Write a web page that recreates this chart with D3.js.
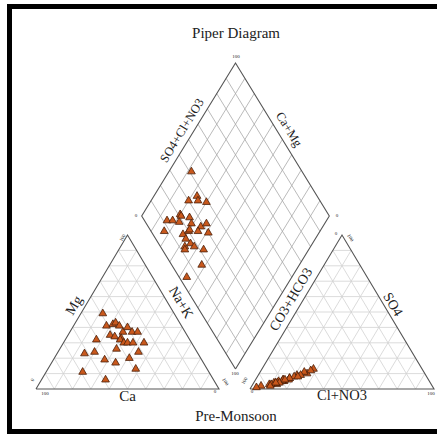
<!DOCTYPE html>
<html>
<head>
  <meta charset="utf-8">
  <title>Piper Diagram</title>
  <style>
    body { margin: 0; background: #fff; }
    text { font-family: "Liberation Serif", "Times New Roman", serif; fill: #222; }
  </style>
</head>
<body>
  <div id="chart"></div>
  <script src="https://cdn.jsdelivr.net/npm/d3@7"></script>
  <script>
  // sample chemistry in percent (meq), one entry per sample
  var ca   = [39, 62, 51, 41, 56, 69, 37, 35, 42, 34, 40, 53, 34, 37, 38, 30, 43, 37, 29, 48, 59, 35, 26, 32, 39, 32, 26, 39];
  var mg   = [49, 23, 32, 41, 24, 11, 42, 43, 35, 41, 34, 19, 37, 33, 32, 40, 26, 30, 37, 17,  6, 30, 37, 30, 20, 24, 30, 13];
  var naK  = [12, 15, 17, 18, 20, 20, 21, 22, 23, 25, 26, 28, 29, 30, 30, 30, 31, 33, 34, 35, 35, 35, 37, 38, 41, 44, 44, 48];
  var hco3 = [59, 88, 93, 85, 79, 70, 79, 82, 64, 65, 75, 84, 76, 80, 79, 61, 84, 87, 88, 83, 72, 75, 68, 82, 70, 96, 78, 84];
  var so4  = [13,  3,  2,  4,  5,  9,  6,  5, 10, 11,  7,  4,  6,  5,  6, 12,  3,  3,  2,  4,  8,  7,  9,  4,  8,  1,  6,  4];
  var cl   = [28,  9,  5, 11, 16, 21, 15, 13, 26, 24, 18, 12, 18, 15, 15, 27, 13, 10, 10, 13, 20, 18, 23, 14, 22,  3, 16, 12];

  var gridTicks = [10, 20, 30, 40, 50, 60, 70, 80, 90];

  var width = 437, height = 435;
  var H = Math.sqrt(3) / 2;

  var svg = d3.select("#chart").append("svg")
      .attr("width", width)
      .attr("height", height);

  // frame
  svg.append("rect")
      .attr("x", 9.5).attr("y", 6.5)
      .attr("width", 440).attr("height", 425)
      .attr("fill", "none")
      .attr("stroke", "#000")
      .attr("stroke-width", 5);

  // scales for the three parts (unit ternary coordinates -> pixels)
  var xL = d3.scaleLinear().domain([0, 1]).range([36, 219]);
  var yL = d3.scaleLinear().domain([0, H]).range([389, 235]);
  var xR = d3.scaleLinear().domain([0, 1]).range([250, 434]);
  var yR = d3.scaleLinear().domain([0, H]).range([389, 235]);
  var xD = d3.scaleLinear().domain([0, 1]).range([141.7, 329.3]);
  var yD = d3.scaleLinear().domain([0, 2 * H]).range([369, 63]);

  var line = function(xs, ys) {
    return d3.line().x(function(p){ return xs(p[0]); }).y(function(p){ return ys(p[1]); });
  };

  function triGrid(g, xs, ys) {
    var path = line(xs, ys);
    gridTicks.forEach(function(v) {
      var t = v / 100;
      [[[t / 2, t * H], [1 - t / 2, t * H]],
       [[t, 0], [t + (1 - t) / 2, (1 - t) * H]],
       [[1 - t, 0], [(1 - t) / 2, (1 - t) * H]]].forEach(function(seg) {
        g.append("path").attr("d", path(seg))
          .attr("stroke", "#d2d2d2").attr("stroke-width", 0.8).attr("fill", "none");
      });
    });
    g.append("path")
      .attr("d", path([[0, 0], [1, 0], [0.5, H], [0, 0]]))
      .attr("stroke", "#555").attr("stroke-width", 1.1).attr("fill", "none");
  }

  var gL = svg.append("g");
  var gR = svg.append("g");
  var gD = svg.append("g");
  triGrid(gL, xL, yL);
  triGrid(gR, xR, yR);

  // diamond grid
  var pathD = line(xD, yD);
  gridTicks.forEach(function(v) {
    var t = v / 100;
    [[[0.5 - t / 2, t * H], [1 - t / 2, (1 + t) * H]],
     [[0.5 + t / 2, t * H], [t / 2, (1 + t) * H]]].forEach(function(seg) {
      gD.append("path").attr("d", pathD(seg))
        .attr("stroke", "#a8a8a8").attr("stroke-width", 0.8).attr("fill", "none");
    });
  });
  gD.append("path")
    .attr("d", pathD([[0.5, 0], [1, H], [0.5, 2 * H], [0, H], [0.5, 0]]))
    .attr("stroke", "#555").attr("stroke-width", 1.1).attr("fill", "none");

  // sample positions
  var samples = ca.map(function(d, i) {
    var c = (ca[i] + mg[i]) / 100, s = (so4[i] + cl[i]) / 100;
    return {
      L: [naK[i] / 100 + mg[i] / 200, mg[i] / 100 * H],
      R: [cl[i] / 100 + so4[i] / 200, so4[i] / 100 * H],
      D: [0.5 + 0.5 * (s - c), H * (s + c)]
    };
  });

  var marker = d3.symbol().type(d3.symbolTriangle).size(26);
  function drawPoints(g, key, xs, ys) {
    g.selectAll(".pt").data(samples).enter().append("path")
      .attr("class", "pt")
      .attr("d", marker)
      .attr("transform", function(d){ return "translate(" + xs(d[key][0]) + "," + ys(d[key][1]) + ")"; })
      .attr("fill", "#c9581c")
      .attr("stroke", "#4a1f0a")
      .attr("stroke-width", 0.8);
  }
  drawPoints(gL, "L", xL, yL);
  drawPoints(gR, "R", xR, yR);
  drawPoints(gD, "D", xD, yD);

  // labels
  function label(txt, x, y, rot, size) {
    svg.append("text")
      .attr("transform", "translate(" + x + "," + y + ") rotate(" + rot + ")")
      .attr("text-anchor", "middle")
      .attr("dominant-baseline", "middle")
      .attr("font-size", size)
      .text(txt);
  }
  var angL = Math.atan2(yL(0) - yL(H), xL(0.5) - xL(0)) * 180 / Math.PI;
  var angD = Math.atan2(yD(H) - yD(2 * H), xD(0.5) - xD(0)) * 180 / Math.PI;

  label("Piper Diagram", 236, 35, 0, 15);
  label("Pre-Monsoon", 236, 418, 0, 15);
  label("Ca", xL(0.5), 398, 0, 15);
  label("Cl+NO3", xR(0.5), 397, 0, 14.5);
  label("Mg", 75, 306, -angL, 14);
  label("Na+K", 180, 303, angL, 14);
  label("CO3+HCO3", 292, 300, -angL, 14);
  label("SO4", 392, 305, angL, 14);
  label("SO4+Cl+NO3", 183, 131, -angD, 12.5);
  label("Ca+Mg", 288, 130, angD, 12.5);

  // tiny tick labels at the corners
  var ticks = [
    ["100", 45, 394, 0], ["0", 215, 392, 0], ["0", 33, 380, -angL], ["100", 123, 238, -angL],
    ["100", 225, 382, angL], ["0", 252, 392, 0], ["100", 431, 394, 0], ["100", 245, 381, -angL],
    ["0", 336, 234, 0], ["100", 350, 238, angL], ["0", 136, 216, 0], ["0", 337, 216, 0],
    ["100", 236, 57, 0], ["100", 235, 374, 0]
  ];
  ticks.forEach(function(t) { label(t[0], t[1], t[2], t[3], 5); });
  </script>
</body>
</html>
